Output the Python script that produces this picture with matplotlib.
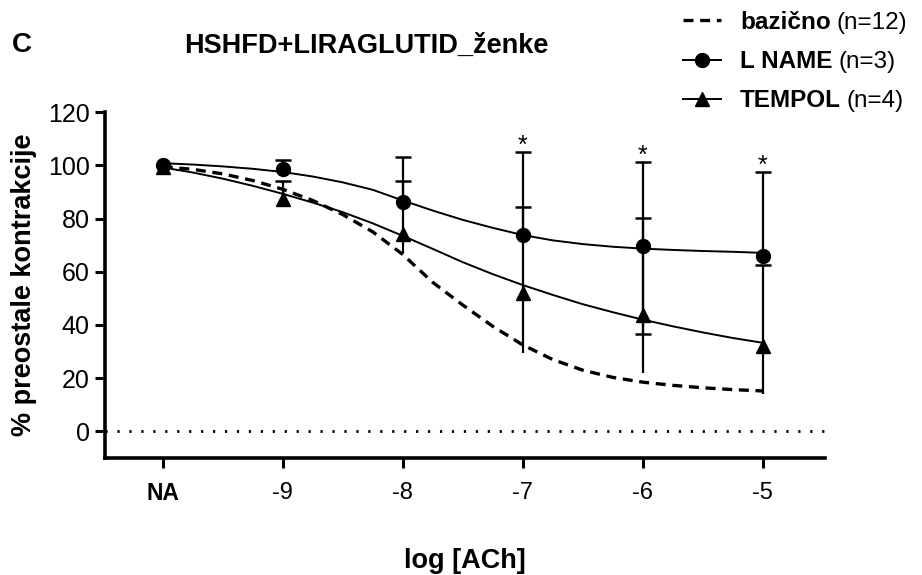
import numpy as np
import matplotlib
matplotlib.use("Agg")
import matplotlib.pyplot as plt

plt.rcParams['font.family'] = ['Liberation Sans', 'DejaVu Sans']

# x positions (log [ACh]); -10 stands for NA
conc = [-10, -9, -8, -7, -6, -5]
tick_labels = ['NA', '-9', '-8', '-7', '-6', '-5']

# points
lname_mean = [100, 98.5, 86.1, 73.9, 69.7, 65.8]
lname_up = [0, 3.5, 17.0, 31.2, 31.7, 31.8]
lname_lo = [0, 0, 0, 0, 33.1, 0]
tempol_mean = [99.2, 87.4, 74.3, 52.0, 43.9, 32.0]
tempol_up = [0, 6.8, 19.9, 32.5, 36.2, 30.4]
tempol_lo = [0, 0, 7.3, 22.5, 21.9, 18.1]
signif = ['', '', '', '*', '*', '*']

# fitted curves, every 0.25 log unit
curve_x = [-10, -9.75, -9.5, -9.25, -9, -8.75, -8.5, -8.25, -8, -7.75, -7.5,
           -7.25, -7, -6.75, -6.5, -6.25, -6, -5.75, -5.5, -5.25, -5]
bazicno_curve = [99.5, 98.5, 96.8, 94.3, 91.0, 86.8, 81.5, 75.0, 66.5, 56.0, 47.5,
                 39.5, 32.5, 27.0, 23.0, 20.3, 18.5, 17.3, 16.4, 15.7, 15.2]
lname_curve = [100.8, 100.3, 99.6, 98.7, 97.5, 95.8, 93.6, 90.8, 86.8, 83.0, 79.5,
               76.5, 73.8, 71.8, 70.4, 69.4, 68.7, 68.2, 67.8, 67.5, 67.1]
tempol_curve = [99.2, 97.3, 95.0, 92.3, 89.3, 86.0, 82.4, 78.2, 73.5, 68.6, 63.6,
                59.1, 55.0, 51.3, 47.8, 44.8, 42.0, 39.5, 37.2, 35.1, 33.3]

names = ['bazično', 'L NAME', 'TEMPOL']
counts = ['(n=12)', '(n=3)', '(n=4)']

W, H = 922, 575
fig = plt.figure(figsize=(W / 100, H / 100), dpi=100)
ax = fig.add_axes([0.114, 0.2035, 0.781, 0.6015])

x = np.array(conc, dtype=float)
lm, lu, ll = np.array(lname_mean), np.array(lname_up), np.array(lname_lo)
tm, tu, tl = np.array(tempol_mean), np.array(tempol_up), np.array(tempol_lo)

# error bars (drawn by hand so each end can have its own cap)
eb = dict(color='black', lw=1.6, zorder=2)
cap = dict(marker='_', ms=11, mew=1.8, color='black', ls='none', zorder=2)
ax.vlines(x, lm, lm + lu, **eb)
ax.plot(x[lu > 0], (lm + lu)[lu > 0], **cap)
ax.vlines(x, lm - ll, lm, **eb)
ax.plot(x[ll > 0], (lm - ll)[ll > 0], **cap)
ax.vlines(x, tm, tm + tu, **eb)
ax.plot(x[tu > 0], (tm + tu)[tu > 0], **cap)
ax.vlines(x, tm - tl, tm, **eb)

# curves
dash = (0, (3.0, 2.0))
ax.plot(curve_x, bazicno_curve, color='black', lw=2.4, ls=dash, zorder=3)
ax.plot(curve_x, lname_curve, color='black', lw=1.4, zorder=3)
ax.plot(curve_x, tempol_curve, color='black', lw=1.4, zorder=3)

# points
ax.plot(x, lm, 'o', color='black', ms=10, ls='none', zorder=4)
ax.plot(x, tm, '^', color='black', ms=10, ls='none', zorder=4)

# significance stars
for xi, top, s in zip(x, lm + lu, signif):
    if s:
        ax.text(xi, top - 2.4, s, ha='center', va='bottom', fontsize=18)

ax.axhline(0, color='black', lw=2, ls=(0, (0.8, 3.5)), zorder=1)

ax.set_xlim(-10.48, -4.48)
ax.set_ylim(-10, 120)
ax.set_yticks([0, 20, 40, 60, 80, 100, 120])
ax.set_xticks(conc)
ax.set_xticklabels(tick_labels)
ax.tick_params(width=2.2, length=7, direction='out')
ax.tick_params(axis='y', labelsize=18, pad=4)
ax.tick_params(axis='x', labelsize=17, pad=10)
ax.get_xticklabels()[0].set_fontweight('bold')
ax.get_xticklabels()[0].set_fontsize(16.5)
for side in ['top', 'right']:
    ax.spines[side].set_visible(False)
for side in ['left', 'bottom']:
    ax.spines[side].set_linewidth(2.6)

ax.set_ylabel('% preostale kontrakcije', fontsize=19.5, fontweight='bold', va='center')
ax.yaxis.set_label_coords((24 - 105) / 720, 0.5)
ax.set_xlabel('log [ACh]', fontsize=19.5, fontweight='bold', va='center')
ax.xaxis.set_label_coords(0.5, (458 - 561) / 345.9)

fig.text(12 / W, 1 - 45 / H, 'C', fontsize=20, fontweight='bold', va='center')
fig.text(366.5 / W, 1 - 45.5 / H, 'HSHFD+LIRAGLUTID_ženke', fontsize=19.5,
         fontweight='bold', ha='center', va='center')

# legend: bold name + regular count
h1, = ax.plot([], [], color='black', lw=2.4, ls=dash)
h2, = ax.plot([], [], color='black', lw=1.4, marker='o', ms=10)
h3, = ax.plot([], [], color='black', lw=1.4, marker='^', ms=10)
leg = fig.legend([h1, h2, h3], names, loc='upper left',
                 bbox_to_anchor=(683 / W, 1 - 11 / H), borderpad=0, borderaxespad=0,
                 frameon=False, prop={'size': 17.5, 'weight': 'bold'},
                 handlelength=1.55, handletextpad=0.8, labelspacing=0.66)

fig.canvas.draw()
for t, c in zip(leg.get_texts(), counts):
    bb = t.get_window_extent()
    fig.text((bb.x1 + 6) / W, bb.y0 / H, c, fontsize=17.5, va='bottom', ha='left')

fig.savefig('out.png', dpi=100)
